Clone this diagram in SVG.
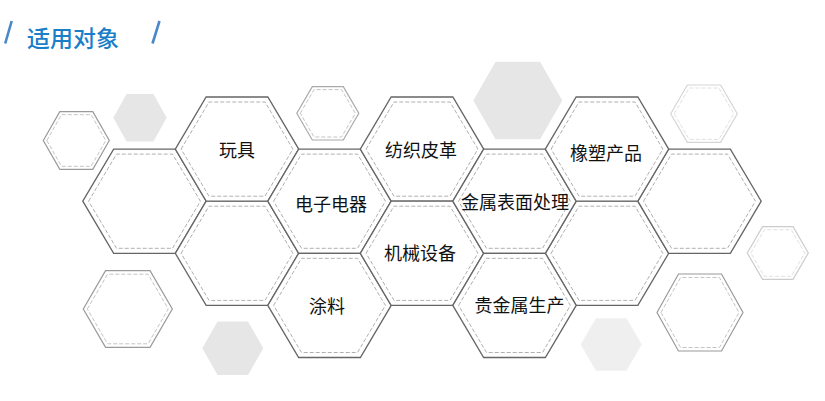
<svg xmlns="http://www.w3.org/2000/svg" xmlns:xlink="http://www.w3.org/1999/xlink" width="825" height="401" viewBox="0 0 825 401">
<style>
.bo{fill:#fff;stroke:#666;stroke-width:1.3}
.bi{fill:none;stroke:#b0b0b0;stroke-width:1;stroke-dasharray:4 2}
.so{fill:none;stroke:#9a9a9a;stroke-width:1.2}
.si{fill:none;stroke:#c4c4c4;stroke-width:1;stroke-dasharray:4 2}
.lo{fill:none;stroke:#d6d6d6;stroke-width:1.2}
.li{fill:none;stroke:#e0e0e0;stroke-width:1;stroke-dasharray:4 2}
.gf{fill:#e6e6e6;stroke:none}
.lbl{font-family:"Noto Sans CJK SC","Noto Sans",sans-serif;font-size:18px;fill:#111;text-anchor:middle}
.ttl{font-family:"Noto Sans CJK SC","Noto Sans",sans-serif;font-size:23px;font-weight:500;fill:#1a7ec8}
.sl{stroke:#4a88c8;stroke-width:2.6;stroke-linecap:butt}
</style>
<defs>
<g id="big">
<polygon class="bo" points="-61.7,0 -30.85,-52.1 30.85,-52.1 61.7,0 30.85,52.1 -30.85,52.1"/>
<polygon class="bi" points="-55.9,0 -28,-47.1 28,-47.1 55.9,0 28,47.1 -28,47.1"/>
</g>
</defs>
<rect width="825" height="401" fill="#fff"/>
<g id="header">
<line class="sl" x1="11.7" y1="21" x2="5.2" y2="43.5"/>
<text class="ttl" x="27" y="46.5">适用对象</text>
<line class="sl" x1="159.5" y1="21" x2="152.5" y2="43.5"/>
</g>
<g id="decor">
<polygon class="so" points="43.3,140.5 59.8,111.7 92.8,111.7 109.3,140.5 92.8,169.3 59.8,169.3"/>
<polygon class="si" points="46.8,140.5 61.5,114.7 91.1,114.7 105.8,140.5 91.1,166.3 61.5,166.3"/>
<polygon class="gf" points="113.3,117.8 126.65,94 153.35,94 166.7,117.8 153.35,141.6 126.65,141.6"/>
<polygon class="so" points="296.8,113.3 312.3,86.6 343.3,86.6 358.8,113.3 343.3,140 312.3,140" style="stroke:#aaa"/>
<polygon class="si" points="300.3,113.3 314,89.6 341.6,89.6 355.3,113.3 341.6,137 314,137"/>
<polygon class="gf" points="473.3,100.5 495.55,61.7 540.05,61.7 562.3,100.5 540.05,139.3 495.55,139.3"/>
<polygon class="lo" points="670.7,113.7 687.35,85 720.65,85 737.3,113.7 720.65,142.4 687.35,142.4"/>
<polygon class="li" points="674.2,113.7 689.1,88 718.9,88 733.8,113.7 718.9,139.4 689.1,139.4"/>
<polygon class="lo" points="747.3,253 762.55,226.7 793.05,226.7 808.3,253 793.05,279.3 762.55,279.3" style="stroke:#cccccc"/>
<polygon class="li" points="750.8,253 764.3,229.7 791.3,229.7 804.8,253 791.3,276.3 764.3,276.3"/>
<polygon class="so" points="657,312.5 678.5,274 721.5,274 743,312.5 721.5,351 678.5,351"/>
<polygon class="si" points="661,312.5 680.56,277.5 719.44,277.5 739,312.5 719.44,347.5 680.56,347.5"/>
<polygon class="so" points="83.3,309 105.55,270.7 150.05,270.7 172.3,309 150.05,347.3 105.55,347.3"/>
<polygon class="si" points="87.35,309 107.57,274.2 148.03,274.2 168.25,309 148.03,343.8 107.57,343.8"/>
<polygon class="gf" points="202.3,348.3 217.55,321.6 248.05,321.6 263.3,348.3 248.05,375 217.55,375"/>
<polygon class="gf" points="580.7,344.5 595.95,318.3 626.45,318.3 641.7,344.5 626.45,370.7 595.95,370.7" style="fill:#efefef"/>
</g>
<g id="connectors"></g>
<g id="hexA"><use href="#big" xlink:href="#big" transform="translate(144.5,201.2)"/></g>
<g id="hexB2"><use href="#big" xlink:href="#big" transform="translate(237,253.3)"/></g>
<g id="hexF2"><use href="#big" xlink:href="#big" transform="translate(607,253.3)"/></g>
<g id="hexG"><use href="#big" xlink:href="#big" transform="translate(699.5,201.2)"/></g>
<g id="n-wanju"><use href="#big" xlink:href="#big" transform="translate(237,149.1)"/><text class="lbl" x="237" y="156.5">玩具</text></g>
<g id="n-dianzi"><use href="#big" xlink:href="#big" transform="translate(329.5,201.2)"/><text class="lbl" x="331" y="210.5">电子电器</text></g>
<g id="n-tuliao"><use href="#big" xlink:href="#big" transform="translate(329.5,305.4)"/><text class="lbl" x="327" y="313">涂料</text></g>
<g id="n-fangzhi"><use href="#big" xlink:href="#big" transform="translate(422,149.1)"/><text class="lbl" x="421" y="156.5">纺织皮革</text></g>
<g id="n-jixie"><use href="#big" xlink:href="#big" transform="translate(422,253.3)"/><text class="lbl" x="420" y="259.5">机械设备</text></g>
<g id="n-jinshu"><use href="#big" xlink:href="#big" transform="translate(514.5,201.2)"/><text class="lbl" x="515" y="208.5">金属表面处理</text></g>
<g id="n-guijinshu"><use href="#big" xlink:href="#big" transform="translate(514.5,305.4)"/><text class="lbl" x="519.5" y="311.5">贵金属生产</text></g>
<g id="n-xiangsu"><use href="#big" xlink:href="#big" transform="translate(607,149.1)"/><text class="lbl" x="606" y="159.5">橡塑产品</text></g>
</svg>
